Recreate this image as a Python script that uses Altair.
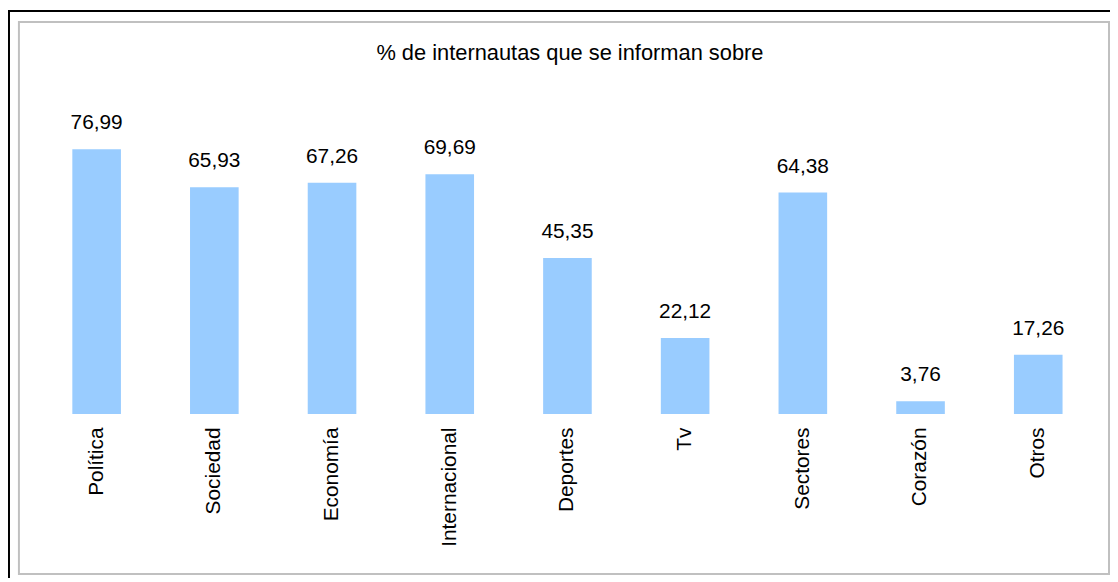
import altair as alt
import pandas as pd

categories = ["Política", "Sociedad", "Economía", "Internacional", "Deportes",
              "Tv", "Sectores", "Corazón", "Otros"]
values = [76.99, 65.93, 67.26, 69.69, 45.35, 22.12, 64.38, 3.76, 17.26]
title_text = "% de internautas que se informan sobre"

df = pd.DataFrame({"cat": categories, "val": values})

FONT = "Liberation Sans"
W, H = 1067, 312

base = alt.Chart(df).transform_calculate(
    lbl="replace(format(datum.val, '.2f'), '.', ',')"
)

x_enc = alt.X(
    "cat:N", sort=None, title=None,
    scale=alt.Scale(paddingInner=0.587, paddingOuter=0.2935),
    axis=alt.Axis(labelAngle=-90, labelFont=FONT, labelFontSize=21,
                  labelColor="#000000", labelPadding=13, ticks=False,
                  domain=False, grid=False, labelLimit=300),
)
y_enc = alt.Y("val:Q", scale=alt.Scale(domain=[0, 90]), axis=None)

bars = base.mark_bar(color="#99CCFF").encode(x=x_enc, y=y_enc)
labels = base.mark_text(font=FONT, fontSize=21, color="#000000",
                        baseline="alphabetic", dy=-20).encode(
    x=alt.X("cat:N", sort=None), y="val:Q", text="lbl:N")

one = alt.Chart(pd.DataFrame({"a": [0]}))
frame = one.mark_rect(filled=False, stroke="#C0C0C0", strokeWidth=2).encode(
    x=alt.value(-19), x2=alt.value(1079), y=alt.value(-83), y2=alt.value(473))
black_left = one.mark_rule(color="#000000", strokeWidth=2).encode(
    x=alt.value(-29), y=alt.value(-94), y2=alt.value(480))
black_top = one.mark_rule(color="#000000", strokeWidth=2).encode(
    y=alt.value(-94), x=alt.value(-31), x2=alt.value(1085))

title_text_chart = one.mark_text(font=FONT, fontSize=22, color="#000000",
                                 baseline="alphabetic", align="center").encode(
    x=alt.value(536), y=alt.value(-45), text=alt.value(title_text))

chart = alt.layer(frame, black_left, black_top, title_text_chart, bars, labels).properties(
    width=W, height=H,
    autosize=alt.AutoSizeParams(type="none"),
    padding={"left": 30, "top": 95, "right": 13, "bottom": 163},
).configure_view(strokeWidth=0)

chart.save("out.html", embed_options={"renderer": "svg", "actions": False})
